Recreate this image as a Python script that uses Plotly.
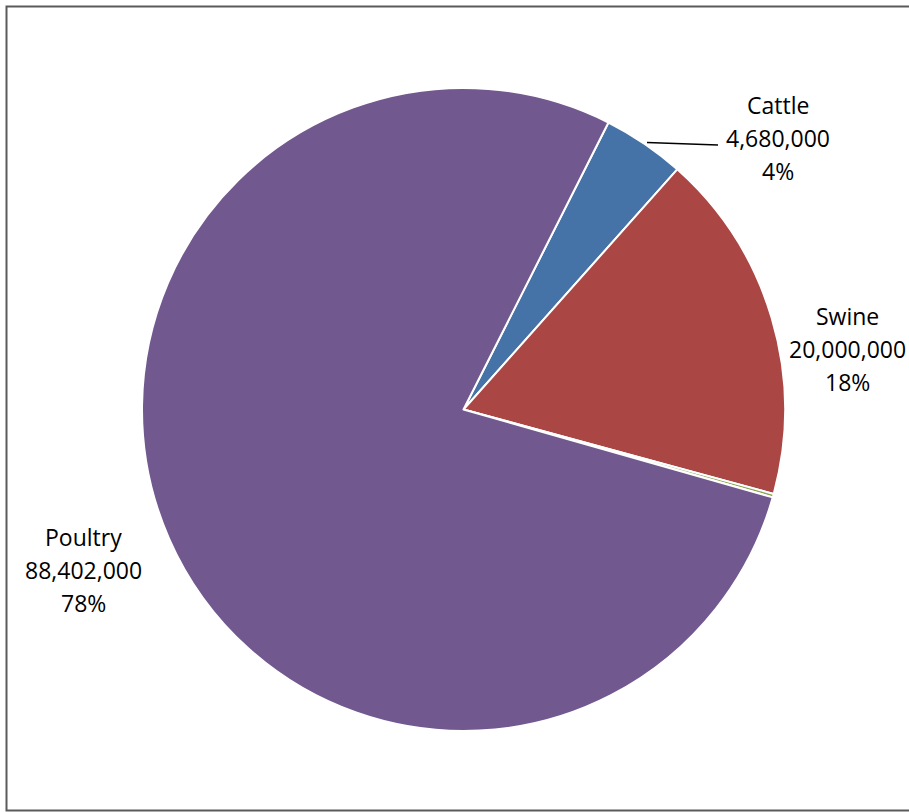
import plotly.graph_objects as go

# ---- data ----
categories = ["Cattle", "Swine", "Other", "Poultry"]
values = [4680000, 20000000, 200000, 88402000]
colors = ["#4572A7", "#AA4643", "#89A54E", "#71588F"]
labeled = ["Cattle", "Swine", "Poultry"]

W, H = 909, 812
FONT = "Open Sans"
FS = 23

def px(x):
    return x / W

def py(y):
    return 1 - y / H

total = sum(values)

fig = go.Figure(go.Pie(
    labels=categories,
    values=values,
    sort=False,
    direction="clockwise",
    rotation=26.8,
    marker=dict(colors=colors, line=dict(color="white", width=2)),
    textinfo="none",
    hoverinfo="label+value+percent",
    showlegend=False,
    domain=dict(x=[px(142), px(785)], y=[py(731), py(88)]),
))

# label block centers (pixel positions)
label_pos = {"Cattle": (778, 138), "Swine": (847, 349), "Poultry": (83, 570)}
annotations = []
for name in labeled:
    v = values[categories.index(name)]
    pct = round(v / total * 100)
    lines = [name, f"{v:,}", f"{pct}%"]
    cx, cy = label_pos[name]
    for k, t in enumerate(lines):
        annotations.append(dict(
            x=px(cx), y=py(cy + (k - 1) * 33), xref="paper", yref="paper",
            text=t, showarrow=False, xanchor="center", yanchor="middle",
            font=dict(family=FONT, size=FS, color="black"),
        ))

shapes = [
    # chart frame
    dict(type="rect", xref="paper", yref="paper",
         x0=px(6.5), x1=px(940), y0=py(810.5), y1=py(6.5),
         line=dict(color="#5a5a5a", width=2), fillcolor="rgba(0,0,0,0)", layer="below"),
    # leader line for Cattle
    dict(type="line", xref="paper", yref="paper",
         x0=px(647), y0=py(142.5), x1=px(718), y1=py(145),
         line=dict(color="black", width=1.5)),
]

fig.update_layout(
    width=W, height=H, autosize=False,
    margin=dict(l=0, r=0, t=0, b=0),
    paper_bgcolor="white", plot_bgcolor="white",
    annotations=annotations, shapes=shapes,
    font=dict(family=FONT),
)

fig.write_html(
    "out.html",
    config={"displayModeBar": False},
    post_script="document.body.style.margin='0';document.body.style.overflow='hidden';",
)
